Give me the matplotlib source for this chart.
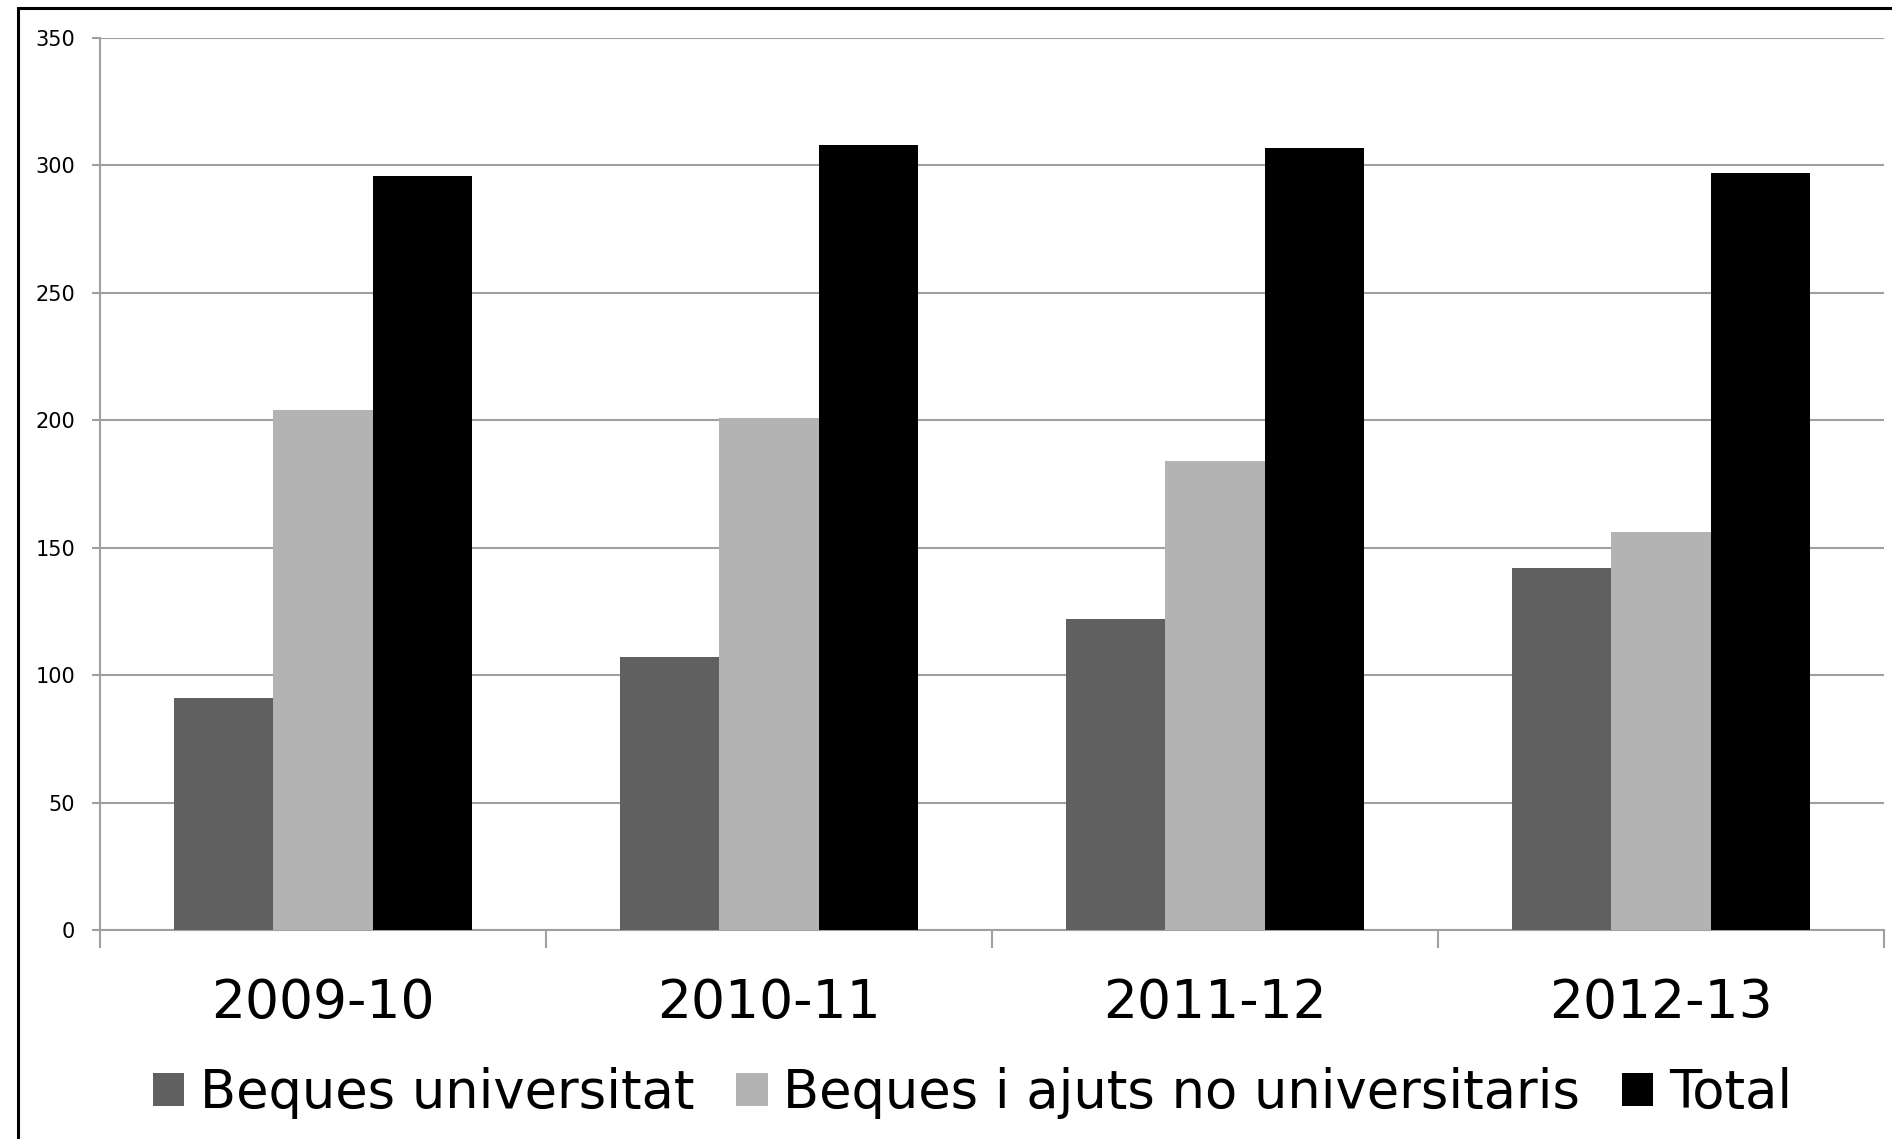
import numpy as np
import matplotlib
matplotlib.use('Agg')
import matplotlib.pyplot as plt
import matplotlib.patches as patches

# data
years = ['2009-10', '2010-11', '2011-12', '2012-13']
series_names = ['Beques universitat', 'Beques i ajuts no universitaris', 'Total']
beques_univ = [91, 107, 122, 142]
beques_no_univ = [204, 201, 184, 156]
total = [296, 308, 307, 297]
yticks = [0, 50, 100, 150, 200, 250, 300, 350]

colors = ['#606060', '#b3b3b3', '#000000']
grid_col = '#a0a0a0'

fig = plt.figure(figsize=(18.92, 11.39), dpi=100)
ax = fig.add_axes([100/1892, 1 - 930/1139, 1784/1892, 892/1139])

x = np.arange(len(years)) + 0.5
w = 0.222
values = [beques_univ, beques_no_univ, total]
for k, (vals, name, col) in enumerate(zip(values, series_names, colors)):
    ax.bar(x + (k - 1) * w, vals, w, color=col, label=name, zorder=3)

ax.set_xlim(0, len(years))
ax.set_ylim(0, 350)
ax.set_yticks(yticks)
ax.yaxis.grid(True, color=grid_col, linewidth=1.5, zorder=0)

# category labels at centres, tick marks at the boundaries
ax.set_xticks(x)
ax.set_xticklabels(years, fontsize=38.5)
ax.set_xticks(np.arange(len(years) + 1), minor=True)
ax.tick_params(axis='x', which='major', length=0, pad=34)
ax.tick_params(axis='x', which='minor', length=13, width=1.5, color=grid_col)
ax.tick_params(axis='y', length=6, width=1.5, color=grid_col, pad=12, labelsize=15)

for s in ['top', 'right']:
    ax.spines[s].set_visible(False)
for s in ['left', 'bottom']:
    ax.spines[s].set_color(grid_col)
    ax.spines[s].set_linewidth(1.5)

fig.legend(loc='center', bbox_to_anchor=(0.514, 1 - 1093/1139), ncol=3, frameon=False,
           fontsize=38, handlelength=0.6, handleheight=0.6, handletextpad=0.3,
           columnspacing=0.78, borderaxespad=0)

# frame around the chart (only top and left are inside the picture)
fig.patches.append(patches.Rectangle((18/1892, -0.1), 1.2, 1.1 - 8/1139,
                                     transform=fig.transFigure, fill=False,
                                     edgecolor='black', linewidth=2.2))

fig.savefig('out.png', dpi=100)
